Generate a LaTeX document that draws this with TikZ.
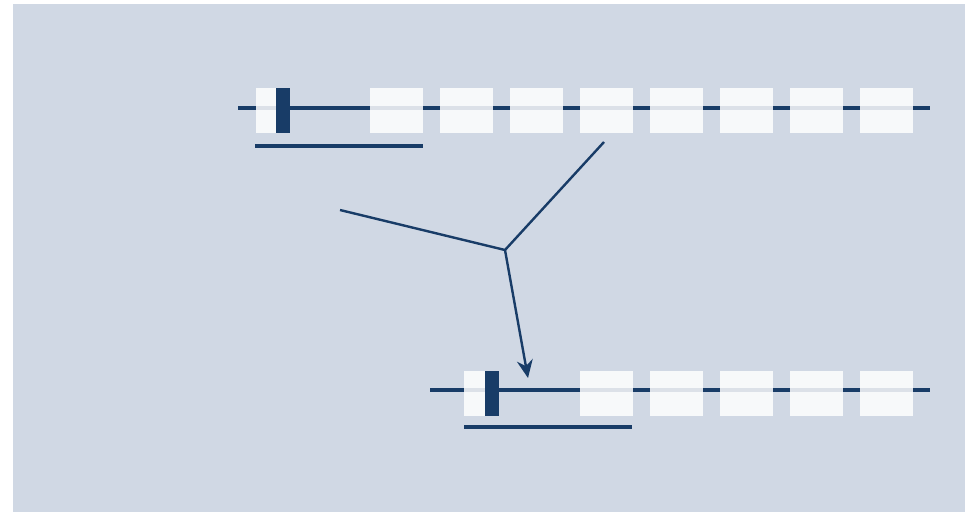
\documentclass[tikz,border=0pt]{standalone}
\usetikzlibrary{arrows.meta}
\definecolor{bgblue}{HTML}{D0D8E4}
\definecolor{ink}{HTML}{183C67}
\tikzset{
  x=1pt, y=-1pt,
  strand/.style={draw=ink, line width=4pt},
  cell/.style={draw=none, fill=white, fill opacity=0.85, minimum width=53pt, minimum height=45pt, inner sep=0pt},
  head/.style={draw=none, fill=white, fill opacity=0.85, minimum width=34pt, minimum height=45pt, inner sep=0pt},
  marker/.style={draw=none, fill=ink, minimum width=14pt, minimum height=45pt, inner sep=0pt},
  span/.style={draw=ink, line width=4pt},
  link/.style={draw=ink, line width=2.4pt},
}
\begin{document}
\begin{tikzpicture}
\useasboundingbox (0,0) rectangle (965,512);
\fill[bgblue] (13,4) rectangle (965,512);

% upper strand
\coordinate (u0) at (238,108);
\coordinate (u1) at (930,108);
\draw[strand] (u0) -- (u1);
\node[head] (uh) at (273,110.5) {};
\foreach \i/\x in {1/396.5,2/466.5,3/536.5,4/606.5,5/676.5,6/746.5,7/816.5,8/886.5}
  \node[cell] (uc\i) at (\x,110.5) {};
\node[marker] (um) at (283,110.5) {};
\draw[strand] (um.east |- u0) -- (uc1.west |- u0);
\draw[span] (255,146) coordinate (us0) -- (423,146) coordinate (us1);

% lower strand
\coordinate (l0) at (430,390);
\coordinate (l1) at (930,390);
\draw[strand] (l0) -- (l1);
\node[head] (lh) at (481,393.5) {};
\foreach \i/\x in {1/606.5,2/676.5,3/746.5,4/816.5,5/886.5}
  \node[cell] (lc\i) at (\x,393.5) {};
\node[marker] (lm) at (492,393.5) {};
\draw[strand] (lm.east |- l0) -- (lc1.west |- l0);
\draw[span] (464,427) coordinate (ls0) -- (632,427) coordinate (ls1);

% joining connector
\coordinate (ja) at (340,210);
\coordinate (jb) at (604,142);
\coordinate (jc) at (505,250);
\coordinate (jt) at (528,378);
\draw[link] (ja) -- (jc);
\draw[link] (jb) -- (jc);
\draw[link, -{Stealth[length=18pt, width=16pt, inset=6pt]}] (jc) -- (jt);
\end{tikzpicture}
\end{document}
